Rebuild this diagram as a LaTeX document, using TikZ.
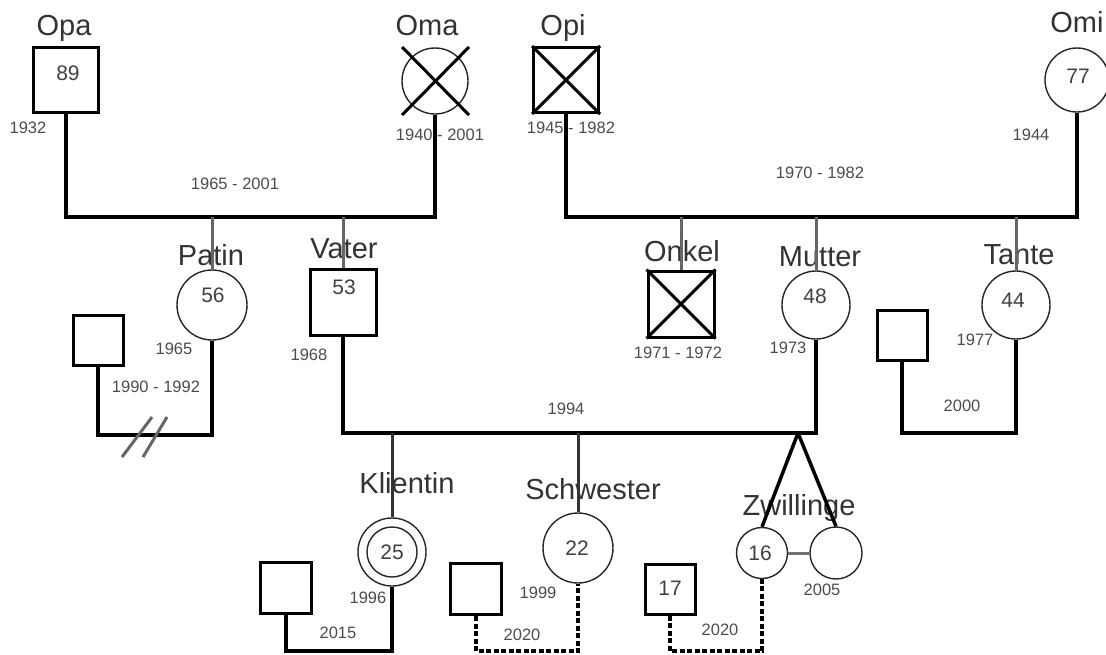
\documentclass[tikz,border=0pt]{standalone}
\usepackage{fontspec}
\setmainfont{Liberation Sans}
\usetikzlibrary{calc}
\begin{document}
\begin{tikzpicture}[x=1pt,y=-1pt,
  male/.style={draw=black, line width=3pt, rectangle, minimum size=#1, inner sep=0pt},
  female/.style={draw=black!85, line width=1.4pt, circle, minimum size=#1, inner sep=0pt},
  xline/.style={line width=3pt, black},
  rel/.style={line width=4pt, black},
  rd/.style={line width=4pt, black, dash pattern=on 5pt off 2.5pt},
  kid/.style={line width=3pt, black!60},
  kidd/.style={line width=3pt, black!80},
  lbl/.style={font=\fontsize{29}{29}\selectfont, text=black!80, anchor=base, inner sep=0pt},
  num/.style={font=\fontsize{21}{21}\selectfont, text=black!75, inner sep=0pt},
  yr/.style={font=\fontsize{16.5}{16.5}\selectfont, text=black!70, inner sep=0pt}]
\useasboundingbox (0,0) rectangle (1106,654);
% coordinates for horizontal lines
\coordinate (m1) at (0,217);
\coordinate (m2) at (0,435);
\coordinate (m3) at (0,433);
\coordinate (bot) at (0,651);
\coordinate (apex) at (798,433);
% generation 1
\node[male=65pt] (opa) at (66,80) {};
\node[female=66pt] (oma) at (435,81) {};
\node[male=65pt] (opi) at (566,80) {};
\node[female=64pt] (omi) at (1077,80) {};
\draw[xline] ($(oma.center)+(-33,-34)$) -- ($(oma.center)+(34,34)$);
\draw[xline] ($(oma.center)+(-33,34)$) -- ($(oma.center)+(34,-34)$);
\draw[xline] (opi.north west) -- (opi.south east);
\draw[xline] (opi.south west) -- (opi.north east);
% generation 2
\node[female=70pt] (patin) at (212,305) {};
\node[male=50pt] (pp) at (98,340) {};
\node[male=66pt] (vater) at (343,302) {};
\node[male=66pt] (onkel) at (681,304) {};
\draw[xline] (onkel.north west) -- (onkel.south east);
\draw[xline] (onkel.south west) -- (onkel.north east);
\node[female=68pt] (mutter) at (816,305) {};
\node[female=68pt] (tante) at (1016,305) {};
\node[male=50pt] (tp) at (902,335) {};
% generation 3
\node[female=68pt] (klientin) at (392,552) {};
\node[female=50pt] (klin) at (392,552) {};
\node[male=51pt] (kp) at (286,588) {};
\node[female=70pt] (schwester) at (578,548) {};
\node[male=51pt] (sp) at (476,589) {};
\node[female=51pt] (twa) at (762,553) {};
\node[female=52pt] (twb) at (836,553) {};
\node[male=50pt] (zp) at (670,589) {};
% labels
\node[lbl] (lopa) at (64,35) {Opa};
\node[lbl] (loma) at (427,35) {Oma};
\node[lbl] (lopi) at (563,35) {Opi};
\node[lbl] (lomi) at (1077,32) {Omi};
\node[lbl] (lpatin) at (211,265) {Patin};
\node[lbl] (lvater) at (344,258) {Vater};
\node[lbl] (lonkel) at (682,261) {Onkel};
\node[lbl] (lmutter) at (820,266) {Mutter};
\node[lbl] (ltante) at (1019,264) {Tante};
\node[lbl] (lklientin) at (407,493) {Klientin};
\node[lbl] (lschwester) at (593,499) {Schwester};
\node[lbl] (lzw) at (799,515) {Zwillinge};
% numbers
\node[num] (n89) at (68,73) {89};
\node[num] (n77) at (1078,76) {77};
\node[num] (n56) at (213,295) {56};
\node[num] (n53) at (344,287) {53};
\node[num] (n48) at (815,296) {48};
\node[num] (n44) at (1013,300) {44};
\node[num] (n25) at (392,552) {25};
\node[num] (n22) at (577,548) {22};
\node[num] (n16) at (760,553) {16};
\node[num] (n17) at (670,588) {17};
% years
\node[yr] (y1) at (28,128) {1932};
\node[yr] (y2) at (235,184) {1965 - 2001};
\node[yr] (y3) at (440,135) {1940 - 2001};
\node[yr] (y4) at (571,128) {1945 - 1982};
\node[yr] (y5) at (820,173) {1970 - 1982};
\node[yr] (y6) at (1031,135) {1944};
\node[yr] (y7) at (174,349) {1965};
\node[yr] (y8) at (156,387) {1990 - 1992};
\node[yr] (y9) at (309,355) {1968};
\node[yr] (y10) at (678,353) {1971 - 1972};
\node[yr] (y11) at (788,348) {1973};
\node[yr] (y12) at (975,340) {1977};
\node[yr] (y13) at (962,406) {2000};
\node[yr] (y14) at (566,409) {1994};
\node[yr] (y15) at (368,598) {1996};
\node[yr] (y16) at (338,633) {2015};
\node[yr] (y17) at (538,593) {1999};
\node[yr] (y18) at (522,635) {2020};
\node[yr] (y19) at (822,590) {2005};
\node[yr] (y20) at (720,630) {2020};
% relationships
\draw[rel] (opa.south) -- (opa.south |- m1) -- (oma.south |- m1) -- (oma.south);
\draw[rel] (opi.south) -- (opi.south |- m1) -- (omi.south |- m1) -- (omi.south);
\draw[rel] (pp.south) -- (pp.south |- m2) -- (patin.south |- m2) -- (patin.south);
\draw[rel] (vater.south) -- (vater.south |- m3) -- (mutter.south |- m3) -- (mutter.south);
\draw[rel] (tp.south) -- (tp.south |- m3) -- (tante.south |- m3) -- (tante.south);
\draw[rel] (kp.south) -- (kp.south |- bot) -- (klientin.south |- bot) -- (klientin.south);
\draw[rd] (sp.south) -- (sp.south |- bot) -- (schwester.south |- bot) -- (schwester.south);
\draw[rd] (zp.south) -- (zp.south |- bot) -- (twa.south |- bot) -- (twa.south);
% divorce marks
\coordinate (d1a) at (152,417); \coordinate (d1b) at (122,457);
\coordinate (d2a) at (167,417); \coordinate (d2b) at (143,457);
\draw[kid] (d1a) -- (d1b);
\draw[kid] (d2a) -- (d2b);
% children lines
\draw[kid] (patin.north |- m1) -- (patin.north);
\draw[kid] (vater.north |- m1) -- (vater.north);
\draw[kid] (onkel.north |- m1) -- (onkel.north);
\draw[kid] (mutter.north |- m1) -- (mutter.north);
\draw[kid] (tante.north |- m1) -- (tante.north);
\draw[kidd] (klientin.north |- m3) -- (klientin.north);
\draw[kidd] (schwester.north |- m3) -- (schwester.north);
\draw[line width=3.5pt] (apex) -- (twa.north);
\draw[line width=3.5pt] (apex) -- (twb.north);
\draw[line width=3pt, black!55] (twa.east) -- (twb.west);
\end{tikzpicture}
\end{document}
